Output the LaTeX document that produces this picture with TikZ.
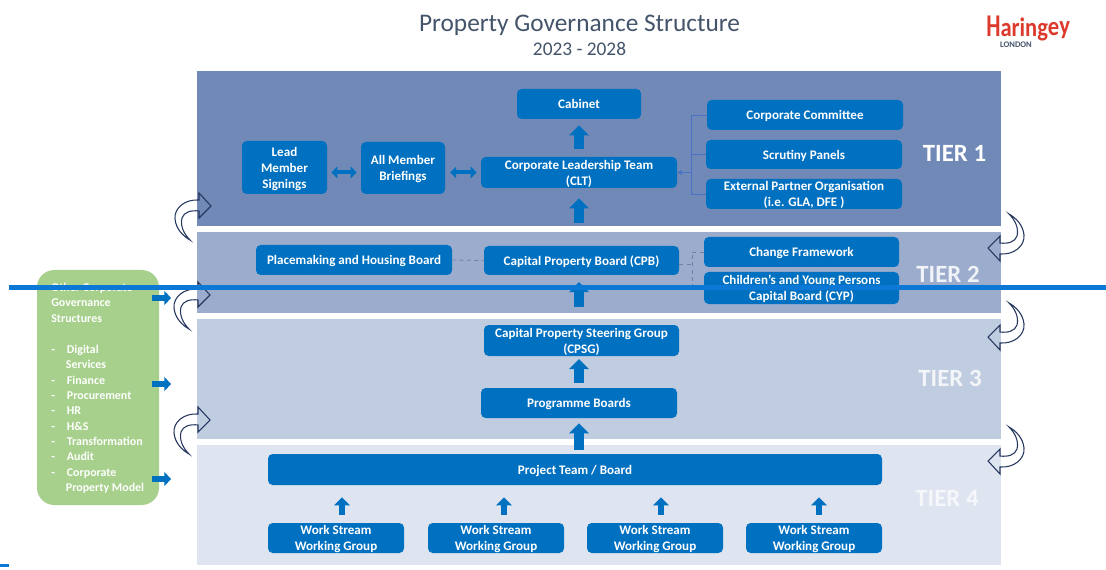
\documentclass[tikz,border=0pt]{standalone}
\usepackage{fontspec}
\setmainfont{Carlito}
\usetikzlibrary{arrows.meta}
\definecolor{tierA}{HTML}{7089B6}
\definecolor{tierB}{HTML}{9BACCC}
\definecolor{tierC}{HTML}{C0CDE1}
\definecolor{tierD}{HTML}{DEE5F0}
\definecolor{boxblue}{HTML}{0070C0}
\definecolor{greenbox}{HTML}{A6D08B}
\definecolor{titlegrey}{HTML}{44546A}
\definecolor{navy}{HTML}{26375F}
\definecolor{linkblue}{HTML}{4A72C4}
\definecolor{dashgrey}{HTML}{6F80A8}
\definecolor{overline}{HTML}{0A78D4}
\definecolor{logored}{HTML}{DC3A2C}
\tikzset{
  x=.75pt,y=-.75pt,
  band/.style={fill=#1,draw=none},
  boxn/.style={fill=boxblue,draw=none,rounded corners=3.5pt,text=white,align=center,inner sep=0pt,
    font=\fontsize{9.8}{12}\selectfont\bfseries},
  tierlabel/.style={text=#1,inner sep=0pt,font=\fontsize{18.6}{20}\selectfont\bfseries},
  bigup/.style={draw=boxblue,line width=6.8pt,-{Triangle[length=7.5pt,width=14.5pt]}},
  smallup/.style={draw=boxblue,line width=5pt,-{Triangle[length=6pt,width=11.5pt]}},
  twoway/.style={draw=boxblue,line width=3pt,{Triangle[length=4.5pt,width=8.5pt]}-{Triangle[length=4.5pt,width=8.5pt]}},
  sidearrow/.style={draw=boxblue,line width=5pt,-{Triangle[length=5pt,width=10.5pt]}},
  treelink/.style={draw=linkblue,line width=.7pt},
  dashlink/.style={draw=dashgrey,line width=.6pt,dash pattern=on 3pt off 2.5pt},
  curly/.pic={
    \draw[navy,line width=.8pt,line join=miter]
      (0,0) -- (-12,-13) -- (-12,-6)
      .. controls (-26,-7) and (-37,2) .. (-36,13)
      .. controls (-35,23) and (-28,30) .. (-21,34)
      .. controls (-27,28) and (-31,20) .. (-29,12)
      .. controls (-27,6) and (-20,4) .. (-12,5)
      -- (-12,12) -- cycle;
  }
}
\newcommand{\boxat}[6]{\node[boxn,minimum width={(#3-#2)*.75pt},minimum height={(#5-#4)*.75pt}] (#1) at ({(#2+#3)/2},{(#4+#5)/2}) {\raisebox{-3.5pt}[0pt][0pt]{\begin{tabular}{@{}c@{}}#6\end{tabular}}};}
\newcommand{\logoch}[3]{\raisebox{#1pt}{\scalebox{.89}[#2]{#3}}}
\begin{document}
\begin{tikzpicture}
\path[use as bounding box,fill=white] (0,0) rectangle (1106,570);
% bands
\fill[band=tierA] (197,71) rectangle (1001,226);
\fill[band=tierB] (197,232) rectangle (1001,313);
\fill[band=tierC] (197,319) rectangle (1001,439);
\fill[band=tierD] (197,445) rectangle (1001,565);
% titles
\node[text=titlegrey,inner sep=0pt,font=\fontsize{19}{21}\selectfont] (title) at (579.5,25) {Property Governance Structure};
\node[text=titlegrey,inner sep=0pt,font=\fontsize{14.5}{16}\selectfont] (subtitle) at (579.5,48.5) {2023 - 2028};
% logo
\node[text=logored,inner sep=0pt,anchor=base west,font=\fontsize{19}{20}\selectfont\bfseries] (logo) at (986,37) {\logoch{0}{1.25}{H}\logoch{0}{1.05}{a}\logoch{0}{1.05}{r}\logoch{0}{1.05}{i}\logoch{0}{1.05}{n}\logoch{0}{1.05}{g}\logoch{1}{1.05}{e}\logoch{1.5}{1.05}{y}};
\node[text=titlegrey,inner sep=0pt,font=\fontsize{6.4}{7}\selectfont\bfseries] (logosub) at (1016,44.5) {LONDON};
% tier labels
\node[tierlabel=white] (t1) at (954.5,153.5) {TIER 1};
\node[tierlabel=white!85!tierB] (t2) at (948,274) {TIER 2};
\node[tierlabel=white!80!tierC] (t3) at (950,378) {TIER 3};
\node[tierlabel=white!70!tierD] (t4) at (947,498.5) {TIER 4};
% boxes
\boxat{cabinet}{517}{641}{89}{119}{Cabinet}
\boxat{clt}{481}{677}{157}{188}{Corporate Leadership Team\\(CLT)}
\boxat{lead}{242}{327}{141}{194}{Lead\\Member\\Signings}
\boxat{allm}{361}{445}{142}{194}{All Member\\Briefings}
\boxat{corp}{707}{903}{100}{130}{Corporate Committee}
\boxat{scrut}{706}{902}{140}{169}{Scrutiny Panels}
\boxat{ext}{706}{902}{179}{209}{External Partner Organisation\\(i.e. GLA, DFE )}
\boxat{change}{704}{899}{237}{267}{Change Framework}
\boxat{cyp}{704}{899}{272}{304}{Children’s and Young Persons\\Capital Board (CYP)}
\boxat{place}{256}{452}{245}{275}{Placemaking and Housing Board}
\boxat{cpb}{484}{679}{246}{275}{Capital Property Board (CPB)}
\boxat{cpsg}{484}{679}{325}{356}{Capital Property Steering Group\\(CPSG)}
\boxat{prog}{481}{677}{388}{418}{Programme Boards}
\boxat{proj}{268}{882}{454}{485}{Project Team / Board}
\boxat{wa}{268}{404}{523}{553}{Work Stream\\Working Group}
\boxat{wb}{428}{564}{523}{553}{Work Stream\\Working Group}
\boxat{wc}{587}{723}{523}{553}{Work Stream\\Working Group}
\boxat{wd}{746}{882}{523}{553}{Work Stream\\Working Group}
% green box
\node[fill=greenbox,rounded corners=13pt,minimum width={122*.75pt},minimum height={235*.75pt},inner sep=0pt] (green) at (98,387.5) {};
\node[text=white,inner sep=0pt,anchor=north west,align=left,font=\fontsize{8.95}{11.5}\selectfont\bfseries] (greentext) at (51,283) {%
Other Corporate\\Governance\\Structures\\[12pt]
-\hspace{9pt}Digital\\\hspace{11pt}Services\\
-\hspace{9pt}Finance\\-\hspace{9pt}Procurement\\-\hspace{9pt}HR\\-\hspace{9pt}H\&S\\-\hspace{9pt}Transformation\\-\hspace{9pt}Audit\\-\hspace{9pt}Corporate\\\hspace{11pt}Property Model};
% block arrows
\draw[bigup,shorten <=6pt,shorten >=4.5pt] (clt.north) -- (cabinet.south);
\draw[bigup,shorten <=17.2pt,shorten >=7.5pt] (clt.south|-cpb.north) -- (clt.south);
\draw[bigup,shorten <=13.5pt,shorten >=5.2pt] (clt.south|-cpsg.north) -- (clt.south|-cpb.south);
\draw[bigup,shorten <=3.8pt,shorten >=2.2pt] (prog.north) -- (prog.north|-cpsg.south);
\draw[bigup,shorten <=3pt,shorten >=3.8pt] (proj.north-|prog) -- (prog.south);
\foreach \n/\d in {wa/6,wb/8,wc/6,wd/5}{
  \draw[smallup,shorten <=6pt,shorten >=9pt] ([xshift=\d*.75pt]\n.north) -- ([xshift=\d*.75pt]\n.north|-proj.south);
}
\draw[twoway,shorten <=3pt,shorten >=3pt] (lead.east|-clt.center) -- (allm.west|-clt.center);
\draw[twoway,shorten <=3.7pt,shorten >=3pt] (allm.east|-clt.center) -- (clt.west);
\foreach \i/\y in {a/298,b/384,c/479}{
  \coordinate (s\i) at (152,\y);
  \coordinate (e\i) at (171,\y);
  \draw[sidearrow] (s\i) -- (e\i);
}
% thin links
\coordinate (tree) at (691,172.5);
\draw[treelink] (corp.west) -- (tree|-corp.west) -- (tree|-ext.west) -- (ext.west);
\draw[treelink] (scrut.west) -- (tree|-scrut.west);
\draw[treelink,-{Triangle[length=3.5pt,width=3.5pt]}] (tree) -- (clt.east);
\draw[dashlink] (place.east) -- (cpb.west);
\coordinate (dtree) at (692,264);
\draw[dashlink] (cpb.east|-dtree) -- (dtree);
\draw[dashlink] (change.west) -- (dtree|-change.west) -- (dtree|-cyp.center) -- (cyp.west);
% curved arrows
\foreach \x/\y in {211/206,210/295,210/420}{
  \path (\x,\y) pic {curly};
}
\foreach \x/\y in {988/248,988/337,988/461}{
  \path (\x,\y) pic[rotate=180] {curly};
}
% stray blue line across the picture
\coordinate (la) at (9,287.5);
\coordinate (lb) at (1106,287.5);
\draw[overline,line width=3.4pt] (la) -- (lb);
\fill[overline] (0,564) rectangle (9,567);
\end{tikzpicture}
\end{document}
